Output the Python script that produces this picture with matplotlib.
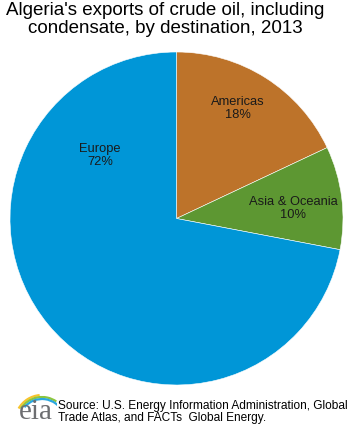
import matplotlib.pyplot as plt
from matplotlib.patches import Arc

plt.rcParams['font.family'] = ['Liberation Sans', 'DejaVu Sans']

regions = ['Americas', 'Asia & Oceania', 'Europe']
shares = [18, 10, 72]
colors = ['#BD732A', '#5D9732', '#0096D7']
# label positions in units of pie radius
label_xy = [(0.37, 0.66), (0.70, 0.06), (-0.46, 0.38)]

fig = plt.figure(figsize=(3.63, 4.28), dpi=100)

ax = fig.add_axes([10 / 363, 43 / 428, 333 / 363, 333 / 428])
ax.pie(shares, colors=colors, startangle=90, counterclock=False,
       wedgeprops=dict(linewidth=0.4, edgecolor='white'))
ax.set_xlim(-1, 1)
ax.set_ylim(-1, 1)
ax.set_aspect('equal')
for name, val, (x, y) in zip(regions, shares, label_xy):
    ax.text(x, y, f"{name}\n{val}%", ha='center', va='center',
            fontsize=9.3, color='#1a1a1a', linespacing=1.1)

fig.text(0.455, 0.995, "Algeria's exports of crude oil, including\ncondensate, by destination, 2013",
         ha='center', va='top', fontsize=13.5, linespacing=1.05)

fig.text(58 / 363, 0.037, "Source: U.S. Energy Information Administration, Global\nTrade Atlas, and FACTs  Global Energy.",
         ha='left', va='center', fontsize=8.6, linespacing=1.0)

# eia logo
lax = fig.add_axes([12 / 363, 2 / 428, 45 / 363, 36 / 428])
lax.set_xlim(0, 45)
lax.set_ylim(0, 36)
lax.axis('off')
lax.text(24, 1, 'eia', ha='center', va='bottom', fontsize=21,
         family='Liberation Serif', color='#6d6e71')
for r, c, t1, t2 in [(27, '#F7C42D', 95, 150), (25, '#8DC63F', 55, 148), (23, '#2AA7DF', 25, 140)]:
    lax.add_patch(Arc((30, 4), 2 * r, 2 * r, theta1=t1, theta2=t2, color=c, lw=1.6))

fig.savefig('out.png', dpi=100)
